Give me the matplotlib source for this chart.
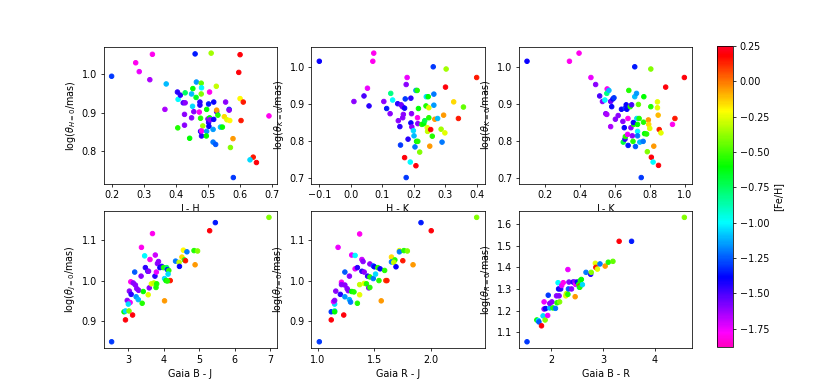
import matplotlib.pyplot as plt

plt.rcParams['font.size'] = 10

# colour scale for metallicity
fe_min = -1.88
fe_max = 0.25

# panel 1: J - H vs log(theta_H=0)
jh_x = [0.2, 0.275, 0.327, 0.286, 0.319, 0.37, 0.366, 0.406, 0.443, 0.427, 0.405, 0.407, 0.414,
        0.429, 0.423, 0.429, 0.427, 0.449, 0.453, 0.464, 0.46, 0.463, 0.452, 0.449, 0.456, 0.473,
        0.475, 0.475, 0.479, 0.48, 0.479, 0.477, 0.477, 0.48, 0.484, 0.48, 0.496, 0.496, 0.495,
        0.502, 0.5, 0.505, 0.505, 0.502, 0.503, 0.506, 0.51, 0.516, 0.516, 0.518, 0.518, 0.526,
        0.524, 0.527, 0.527, 0.531, 0.539, 0.545, 0.551, 0.555, 0.559, 0.566, 0.566, 0.568, 0.57,
        0.579, 0.578, 0.596, 0.6, 0.6, 0.61, 0.603, 0.641, 0.631, 0.651, 0.69]
jh_y = [0.995, 1.03, 1.052, 1.007, 0.986, 0.975, 0.909, 0.861, 0.834, 0.868, 0.954, 0.935, 0.946,
        0.952, 0.926, 0.926, 0.896, 0.949, 0.963, 0.98, 1.053, 0.94, 0.917, 0.887, 0.903, 0.902,
        0.928, 0.92, 0.977, 0.965, 0.949, 0.886, 0.852, 0.84, 0.866, 0.853, 0.909, 0.852, 0.84,
        0.923, 0.884, 0.954, 0.887, 0.875, 0.865, 0.882, 1.055, 0.857, 0.824, 0.928, 0.883, 0.969,
        0.818, 0.903, 0.907, 0.894, 0.863, 0.863, 0.89, 0.928, 0.882, 0.909, 0.907, 0.88, 0.81,
        0.732, 0.833, 1.005, 1.051, 0.937, 0.928, 0.88, 0.785, 0.778, 0.771, 0.892]
jh_fe = [-1.3, -1.8, -1.8, -1.75, -1.65, -1.1, -1.65, -0.55, -0.6, -1.6, -1.45, -1.0, -1.45,
         -0.75, -1.5, -1.6, -1.6, -1.1, -0.6, -1.15, -1.35, -0.65, -1.05, -1.6, -1.6, -1.8,
         -1.45, -1.45, -0.45, -1.0, -0.4, -0.55, -1.4, -1.45, -0.35, -1.8, -0.6, -1.15, -0.6,
         -1.35, -1.6, -1.8, -0.6, -1.45, -1.4, -1.6, -0.35, -1.15, -1.2, -1.4, -1.4, -0.3,
         -1.25, -1.5, -0.05, -0.55, -1.1, -0.6, -0.15, -1.6, -0.25, -1.3, -1.6, -0.2, -0.4,
         -1.3, -0.05, 0.2, 0.2, -0.2, 0.15, 0.15, 0.15, -1.05, 0.2, -1.8]

# panel 2: H - K vs log(theta_K=0)
hk_x = [-0.1, 0.01, 0.042, 0.053, 0.058, 0.073, 0.07, 0.105, 0.114, 0.127, 0.133, 0.125, 0.149,
        0.151, 0.156, 0.158, 0.16, 0.164, 0.165, 0.167, 0.171, 0.173, 0.176, 0.171, 0.179, 0.176,
        0.182, 0.189, 0.191, 0.193, 0.191, 0.194, 0.199, 0.201, 0.204, 0.207, 0.211, 0.209, 0.207,
        0.212, 0.213, 0.213, 0.215, 0.219, 0.226, 0.232, 0.235, 0.239, 0.24, 0.246, 0.243, 0.244,
        0.248, 0.248, 0.251, 0.254, 0.259, 0.262, 0.264, 0.264, 0.267, 0.276, 0.287, 0.29, 0.295,
        0.301, 0.299, 0.303, 0.327, 0.342, 0.358, 0.4]
hk_y = [1.015, 0.906, 0.921, 0.942, 0.894, 1.037, 1.015, 0.906, 0.887, 0.928, 0.91, 0.873, 0.9,
        0.854, 0.838, 0.788, 0.897, 0.892, 0.862, 0.871, 0.888, 0.913, 0.7, 0.754, 0.971, 0.952,
        0.804, 0.742, 0.915, 0.873, 0.848, 0.837, 0.827, 0.813, 0.783, 0.936, 0.936, 0.798, 0.732,
        0.862, 0.846, 0.798, 0.887, 0.769, 0.844, 0.846, 0.854, 0.894, 0.919, 0.919, 0.835, 0.825,
        0.889, 0.862, 0.785, 0.83, 0.812, 1.0, 0.926, 0.896, 0.858, 0.86, 0.831, 0.796, 0.869,
        0.945, 0.821, 0.994, 0.905, 0.86, 0.891, 0.971]
hk_fe = [-1.4, -1.6, -1.5, -1.75, -1.45, -1.8, -1.8, -1.6, -1.35, -0.8, -1.0, -1.6, -1.45,
         -1.6, -1.45, -1.3, -1.55, -1.55, -1.6, -1.6, -1.4, -1.3, -1.3, 0.2, -1.75, -1.6,
         -1.45, -1.0, -1.45, -1.6, -1.4, -1.6, -1.05, -1.1, -1.2, -1.15, -0.55, -0.6, 0.2,
         -1.8, -1.6, -0.55, -0.6, -0.4, -0.55, -0.6, -0.7, -0.55, -1.05, -0.6, -0.25, -0.3,
         -0.25, -0.55, -0.05, 0.2, -0.55, -1.3, -1.2, -1.15, -0.05, -1.1, -0.35, -1.2, -0.05,
         0.2, -0.25, -0.35, -0.15, 0.15, -0.45, 0.15]

# panel 3: J - K vs log(theta_K=0)
jk_x = [0.097, 0.34, 0.395, 0.463, 0.49, 0.513, 0.529, 0.543, 0.548, 0.554, 0.556, 0.554, 0.566,
        0.576, 0.576, 0.582, 0.589, 0.595, 0.603, 0.619, 0.638, 0.646, 0.648, 0.654, 0.658, 0.66,
        0.66, 0.665, 0.669, 0.673, 0.675, 0.676, 0.68, 0.688, 0.692, 0.696, 0.7, 0.704, 0.708,
        0.706, 0.714, 0.714, 0.718, 0.724, 0.726, 0.73, 0.73, 0.73, 0.735, 0.739, 0.743, 0.751,
        0.762, 0.764, 0.766, 0.77, 0.782, 0.786, 0.792, 0.794, 0.8, 0.806, 0.806, 0.809, 0.819,
        0.823, 0.844, 0.844, 0.848, 0.854, 0.864, 0.85, 0.891, 0.944, 0.93, 0.998]
jk_y = [1.015, 1.015, 1.037, 0.971, 0.952, 0.921, 0.906, 0.91, 0.873, 0.871, 0.94, 0.928, 0.936,
        0.906, 0.838, 0.892, 0.913, 0.916, 0.858, 0.868, 0.885, 0.852, 0.796, 0.835, 0.804, 0.811,
        0.888, 0.897, 0.885, 0.817, 0.86, 0.787, 0.936, 0.892, 0.835, 0.897, 0.813, 0.798, 0.844,
        0.849, 1.0, 0.919, 0.784, 0.928, 0.86, 0.844, 0.825, 0.813, 0.898, 0.86, 0.796, 0.7,
        0.798, 0.85, 0.919, 0.819, 0.818, 0.77, 0.856, 0.844, 0.833, 0.994, 0.892, 0.755, 0.742,
        0.785, 0.905, 0.889, 0.869, 0.83, 0.821, 0.733, 0.945, 0.86, 0.844, 0.971]
jk_fe = [-1.4, -1.8, -1.8, -1.75, -1.6, -1.5, -1.6, -1.0, -1.6, -1.65, -1.8, -0.8, -1.1,
         -1.55, -1.65, -1.4, -1.4, -1.3, -1.6, -1.6, -1.4, -1.6, -0.7, -1.4, -1.45, -0.55,
         -1.3, -1.4, -1.4, -1.75, -1.8, -1.35, -0.55, -0.55, -1.6, -1.5, -1.6, -0.55, -0.55,
         -1.4, -1.35, -1.1, -1.25, -1.15, -1.05, -0.6, -1.0, -1.2, -0.45, -0.55, -1.1, -1.3,
         -1.2, -0.55, -0.6, -0.6, -0.55, -0.4, -0.05, -0.15, -0.25, -0.4, -0.55, 0.2, -1.0,
         -0.05, -0.25, -0.25, -0.1, 0.15, -0.25, 0.2, 0.2, 0.15, -1.8, 0.2]

# panel 4: Gaia B - J vs log(theta_J=0)
bj_x = [2.53, 2.92, 2.88, 2.92, 3.02, 3.12, 2.97, 3.05, 3.0, 3.03, 3.07, 3.08, 3.14, 3.2, 3.24,
        3.29, 3.18, 3.22, 3.28, 3.37, 3.36, 3.42, 3.39, 3.46, 3.48, 3.55, 3.56, 3.59, 3.57, 3.61,
        3.65, 3.68, 3.72, 3.75, 3.76, 3.78, 3.8, 3.79, 3.82, 3.85, 3.89, 3.94, 3.99, 4.02, 4.02,
        4.08, 4.1, 4.14, 4.06, 4.12, 4.18, 4.1, 4.33, 4.43, 4.44, 4.51, 4.55, 4.58, 4.61, 4.65,
        4.85, 4.95, 4.88, 5.29, 5.45, 6.96]
bj_y = [0.849, 0.903, 0.923, 0.925, 0.925, 0.915, 0.951, 0.946, 0.942, 0.974, 0.997, 0.966,
        0.994, 0.989, 0.98, 0.976, 1.021, 0.96, 0.953, 1.082, 1.011, 0.973, 0.944, 1.061, 1.032,
        1.023, 0.965, 0.982, 1.023, 1.052, 0.992, 1.116, 0.994, 1.011, 1.063, 0.983, 0.992,
        1.021, 1.042, 1.047, 1.032, 1.035, 1.032, 1.005, 0.95, 1.032, 1.027, 1.025, 1.0, 1.016,
        1.0, 0.999, 1.048, 1.045, 1.035, 1.058, 1.075, 1.051, 1.049, 1.071, 1.074, 1.073, 1.039,
        1.123, 1.143, 1.156]
bj_fe = [-1.3, 0.2, -0.6, -1.05, -0.4, 0.2, -1.6, -1.75, -1.05, -1.6, -1.8, -1.45, -1.6, -1.6,
         -1.6, -1.6, -1.25, -1.15, -1.1, -1.8, -1.6, -0.6, -0.55, -1.0, -1.45, -1.45, -0.25,
         -1.6, -1.6, -1.8, -0.25, -1.8, -0.3, -1.45, -1.7, -0.55, -0.55, -1.75, -1.6, -1.6,
         -1.4, -1.45, -0.55, -1.05, -0.05, -0.75, -1.35, -0.55, -0.6, -1.05, 0.15, -0.55, -1.2,
         -0.3, -1.4, -0.15, -0.2, -0.55, 0.15, -1.2, -0.55, -0.4, -0.05, 0.2, -1.35, -0.4]

# panel 5: Gaia R - J vs log(theta_J=0)
rj_x = [1.015, 1.12, 1.12, 1.15, 1.15, 1.15, 1.14, 1.15, 1.23, 1.16, 1.18, 1.2, 1.21, 1.21, 1.24,
        1.24, 1.24, 1.26, 1.27, 1.28, 1.29, 1.28, 1.3, 1.3, 1.32, 1.33, 1.33, 1.35, 1.35, 1.37,
        1.37, 1.37, 1.39, 1.4, 1.39, 1.41, 1.41, 1.43, 1.45, 1.46, 1.44, 1.46, 1.46, 1.49, 1.49,
        1.5, 1.51, 1.53, 1.54, 1.55, 1.56, 1.59, 1.6, 1.61, 1.65, 1.65, 1.68, 1.67, 1.69, 1.72,
        1.72, 1.76, 1.79, 1.75, 1.84, 1.91, 2.0, 2.4]
rj_y = [0.849, 0.903, 0.923, 0.925, 0.923, 0.942, 0.948, 0.951, 0.915, 0.974, 1.082, 0.966,
        0.996, 0.99, 0.989, 1.021, 0.96, 0.98, 0.975, 0.953, 0.947, 1.011, 1.063, 0.973, 0.972,
        1.062, 1.029, 1.032, 0.944, 1.115, 0.965, 0.99, 1.052, 1.047, 1.023, 1.021, 0.993, 0.992,
        0.982, 0.983, 1.011, 1.041, 1.009, 1.005, 1.036, 1.034, 1.016, 1.032, 1.0, 1.029, 0.95,
        1.025, 1.0, 1.0, 1.058, 1.046, 1.051, 1.045, 1.034, 1.074, 1.071, 1.074, 1.073, 1.049,
        1.039, 1.143, 1.123, 1.156]
rj_fe = [-1.3, 0.2, -1.3, -1.05, -0.6, -1.05, -1.75, -1.6, 0.2, -1.6, -1.75, -1.45, -1.8, -1.6,
         -1.6, -1.25, -1.15, -1.6, -1.6, -1.1, -1.2, -1.6, -1.75, -0.6, -0.55, -1.0, -1.75,
         -1.45, -0.55, -1.8, -0.25, -0.3, -1.7, -1.6, -1.45, -1.6, -0.25, -0.55, -1.6, -0.55,
         -1.45, -1.6, -0.55, -1.2, -1.25, -1.4, -1.05, -0.55, -0.55, -1.4, -0.05, -0.55, 0.05,
         0.15, -0.15, -1.2, -0.55, -0.3, -1.4, -0.25, -1.2, -0.55, -0.4, 0.15, -0.05, -1.35,
         0.2, -0.4]

# panel 6: Gaia B - R vs log(theta_R=0)
br_x = [1.53, 1.72, 1.75, 1.76, 1.81, 1.84, 1.88, 1.86, 1.86, 1.93, 1.94, 1.89, 1.97, 1.97, 2.01,
        2.03, 2.08, 2.11, 2.16, 2.1, 2.15, 2.14, 2.13, 2.18, 2.2, 2.23, 2.28, 2.29, 2.32, 2.32,
        2.33, 2.34, 2.39, 2.42, 2.46, 2.45, 2.47, 2.5, 2.53, 2.54, 2.55, 2.56, 2.58, 2.55, 2.6,
        2.67, 2.76, 2.77, 2.85, 2.86, 2.89, 2.94, 3.04, 3.1, 3.19, 3.31, 3.55, 4.57]
br_y = [1.055, 1.156, 1.153, 1.147, 1.129, 1.175, 1.156, 1.24, 1.207, 1.177, 1.271, 1.209, 1.212,
        1.233, 1.24, 1.212, 1.21, 1.236, 1.24, 1.268, 1.268, 1.3, 1.329, 1.3, 1.316, 1.329, 1.268,
        1.278, 1.39, 1.275, 1.3, 1.332, 1.3, 1.332, 1.264, 1.332, 1.321, 1.332, 1.321, 1.308,
        1.313, 1.339, 1.344, 1.308, 1.32, 1.377, 1.368, 1.377, 1.419, 1.4, 1.392, 1.416, 1.406,
        1.424, 1.428, 1.521, 1.521, 1.632]
br_fe = [-1.3, -0.6, -1.05, -1.25, 0.2, -1.05, -0.4, -1.75, -1.6, -1.75, -1.3, -1.4, -1.1, -1.6,
         -1.6, -0.55, -1.2, -0.55, -0.4, -1.6, -1.6, -1.4, -1.0, -1.45, -1.75, -1.8, -0.25, -0.3,
         -1.75, -0.55, -1.25, -1.6, -1.6, -1.45, -0.05, -1.6, -1.75, -1.4, -0.55, -1.1, 0.15,
         -0.55, -0.6, -0.55, -1.05, -1.2, -1.45, -0.4, -0.25, 0.15, -0.25, -1.2, -0.05, -0.55,
         -0.45, 0.2, -1.35, -0.4]

# tick positions as in the original figure
xticks = [[0.2, 0.3, 0.4, 0.5, 0.6, 0.7], [-0.1, 0.0, 0.1, 0.2, 0.3, 0.4],
          [0.2, 0.4, 0.6, 0.8, 1.0], [3, 4, 5, 6, 7], [1.0, 1.5, 2.0], [2, 3, 4]]
yticks = [[0.8, 0.9, 1.0], [0.7, 0.8, 0.9, 1.0], [0.7, 0.8, 0.9, 1.0],
          [0.9, 1.0, 1.1], [0.9, 1.0, 1.1], [1.1, 1.2, 1.3, 1.4, 1.5, 1.6]]

panels = [
    (jh_x, jh_y, jh_fe, 'J - H', r'log($\theta_{H=0}$/mas)'),
    (hk_x, hk_y, hk_fe, 'H - K', r'log($\theta_{K=0}$/mas)'),
    (jk_x, jk_y, jk_fe, 'J - K', r'log($\theta_{K=0}$/mas)'),
    (bj_x, bj_y, bj_fe, 'Gaia B - J', r'log($\theta_{J=0}$/mas)'),
    (rj_x, rj_y, rj_fe, 'Gaia R - J', r'log($\theta_{J=0}$/mas)'),
    (br_x, br_y, br_fe, 'Gaia B - R', r'log($\theta_{R=0}$/mas)'),
]

fig, axes = plt.subplots(2, 3, figsize=(12, 391 / (830 / 12)))
fig.subplots_adjust(left=0.125, right=0.834, bottom=0.11, top=0.88, wspace=0.2, hspace=0.2)

for i, (ax, (x, y, fe, xl, yl)) in enumerate(zip(axes.ravel(), panels)):
    sc = ax.scatter(x, y, c=fe, cmap='gist_rainbow_r', vmin=fe_min, vmax=fe_max, s=22)
    ax.set_xlabel(xl)
    ax.set_ylabel(yl)
    ax.set_xticks(xticks[i])
    ax.set_yticks(yticks[i])

cax = fig.add_axes([0.864, 0.1125, 0.019, 0.77])
cbar = fig.colorbar(sc, cax=cax)
cbar.set_label('[Fe/H]')
cbar.set_ticks([0.25, 0.0, -0.25, -0.5, -0.75, -1.0, -1.25, -1.5, -1.75])

plt.savefig('out.png', dpi=830 / 12)
